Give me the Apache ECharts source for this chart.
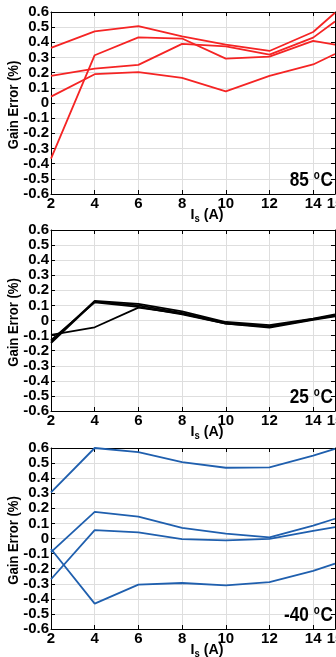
<!DOCTYPE html>
<html>
<head>
<meta charset="utf-8">
<script src="https://cdn.jsdelivr.net/npm/echarts@6/dist/echarts.min.js"></script>
<style>
html,body{margin:0;padding:0;background:#fff;}
#chart{width:336px;height:657px;}
</style>
</head>
<body>
<div id="chart"></div>
<script>
// Current I_s (A)
const currents = [2, 4, 6, 8, 10, 12, 14, 15];
const xTicks = { min: 2, max: 15, interval: 2 };
const yTicks = { min: -0.6, max: 0.6, interval: 0.1 };

// 85 °C gain error (%)
const hot1 = [0.363, 0.472, 0.507, 0.44, 0.385, 0.343, 0.468, 0.595];
const hot2 = [0.179, 0.227, 0.251, 0.39, 0.374, 0.319, 0.431, 0.538];
const hot3 = [-0.367, 0.315, 0.433, 0.425, 0.293, 0.306, 0.409, 0.385];
const hot4 = [0.042, 0.19, 0.203, 0.165, 0.077, 0.179, 0.254, 0.323];

// 25 °C gain error (%)
const room1 = [-0.14, 0.13, 0.11, 0.06, -0.01, -0.03, 0.012, 0.04];
const room2 = [-0.15, 0.125, 0.10, 0.05, -0.015, -0.04, 0.008, 0.035];
const room3 = [-0.13, 0.12, 0.09, 0.04, -0.02, -0.047, 0.004, 0.027];
const room4 = [-0.095, -0.045, 0.085, 0.045, -0.02, -0.04, 0.01, 0.03];

// -40 °C gain error (%)
const cold1 = [0.306, 0.6, 0.573, 0.507, 0.469, 0.472, 0.549, 0.594];
const cold2 = [-0.09, 0.176, 0.145, 0.07, 0.032, 0.008, 0.085, 0.131];
const cold3 = [-0.27, 0.056, 0.041, -0.004, -0.012, -0.002, 0.05, 0.076];
const cold4 = [-0.07, -0.432, -0.306, -0.295, -0.311, -0.289, -0.214, -0.167];

const panelLabels = ['85', '25', '-40'];
const yTitle = 'Gain Error (%)';

const FONT = "'Liberation Sans', Arial, sans-serif";
const panels = [
  { top: 12, height: 182, color: '#f52424', width: 1.8, data: [hot1, hot2, hot3, hot4] },
  { top: 230, height: 181, color: '#000000', width: 1.8, data: [room1, room2, room3, room4] },
  { top: 448, height: 181, color: '#1f5fae', width: 1.8, data: [cold1, cold2, cold3, cold4] }
];

const grids = [], xAxes = [], yAxes = [], series = [], graphics = [];
const axisLine = { show: true, onZero: false, lineStyle: { color: '#000', width: 1 } };
const tick = { show: true, inside: true, length: 4, lineStyle: { color: '#000', width: 1 } };
const labelStyle = { color: '#000', fontFamily: FONT, fontWeight: 'bold', fontSize: 15 };

panels.forEach((p, i) => {
  grids.push({ left: 51, right: 1, top: p.top, height: p.height, containLabel: false, outerBoundsMode: 'none' });
  xAxes.push({
    type: 'value', gridIndex: i, position: 'bottom', ...xTicks,
    axisLine, axisTick: tick,
    axisLabel: { ...labelStyle, margin: 2, showMaxLabel: true, showMinLabel: true, hideOverlap: false },
    splitLine: { show: true, lineStyle: { color: '#dedede', width: 1 } }
  });
  xAxes.push({
    type: 'value', gridIndex: i, position: 'top', ...xTicks,
    axisLine, axisTick: tick, axisLabel: { show: false }, splitLine: { show: false }
  });
  yAxes.push({
    type: 'value', gridIndex: i, position: 'left', ...yTicks,
    axisLine, axisTick: tick,
    axisLabel: { ...labelStyle, margin: 2 },
    splitLine: { show: true, lineStyle: { color: '#dedede', width: 1 } }
  });
  yAxes.push({
    type: 'value', gridIndex: i, position: 'right', ...yTicks,
    axisLine, axisTick: tick, axisLabel: { show: false }, splitLine: { show: false }
  });
  p.data.forEach(arr => {
    series.push({
      type: 'line', xAxisIndex: 2 * i, yAxisIndex: 2 * i,
      data: currents.map((x, k) => [x, arr[k]]),
      showSymbol: false, clip: true,
      lineStyle: { color: p.color, width: p.width },
      itemStyle: { color: p.color }
    });
  });
  const bottom = p.top + p.height;
  // y-axis title
  graphics.push({
    type: 'text', x: 13.5, y: p.top + p.height / 2 + 2, rotation: Math.PI / 2, scaleX: 0.87, z: 10,
    style: {
      text: yTitle, align: 'center', verticalAlign: 'middle',
      font: "bold 15px " + FONT, fill: '#000'
    }
  });
  // temperature annotation
  graphics.push({
    type: 'text', x: 333, y: bottom - 13.5, scaleX: 0.82, z: 10,
    style: {
      text: '{n|' + panelLabels[i] + ' }{o|o}{n|C}',
      align: 'right', verticalAlign: 'middle',
      rich: {
        n: { fontFamily: FONT, fontWeight: 'bold', fontSize: 21, fill: '#000', color: '#000' },
        o: { fontFamily: FONT, fontWeight: 'bold', fontSize: 12, padding: [0, 1, 9, 0], fill: '#000', color: '#000' }
      }
    }
  });
  // x-axis title
  graphics.push({
    type: 'text', x: 207, y: bottom + 21, scaleX: 0.95, z: 10,
    style: {
      text: '{a|I}{b|s}{a| (A)}',
      align: 'center', verticalAlign: 'middle',
      rich: {
        a: { fontFamily: FONT, fontWeight: 'bold', fontSize: 15, fill: '#000', color: '#000' },
        b: { fontFamily: FONT, fontWeight: 'bold', fontSize: 10, padding: [8, 0, 0, 0], fill: '#000', color: '#000' }
      }
    }
  });
});

const chart = echarts.init(document.getElementById('chart'), null, { renderer: 'canvas' });
chart.setOption({
  animation: false,
  backgroundColor: '#fff',
  grid: grids,
  xAxis: xAxes,
  yAxis: yAxes,
  series,
  graphic: graphics
});
</script>
</body>
</html>
